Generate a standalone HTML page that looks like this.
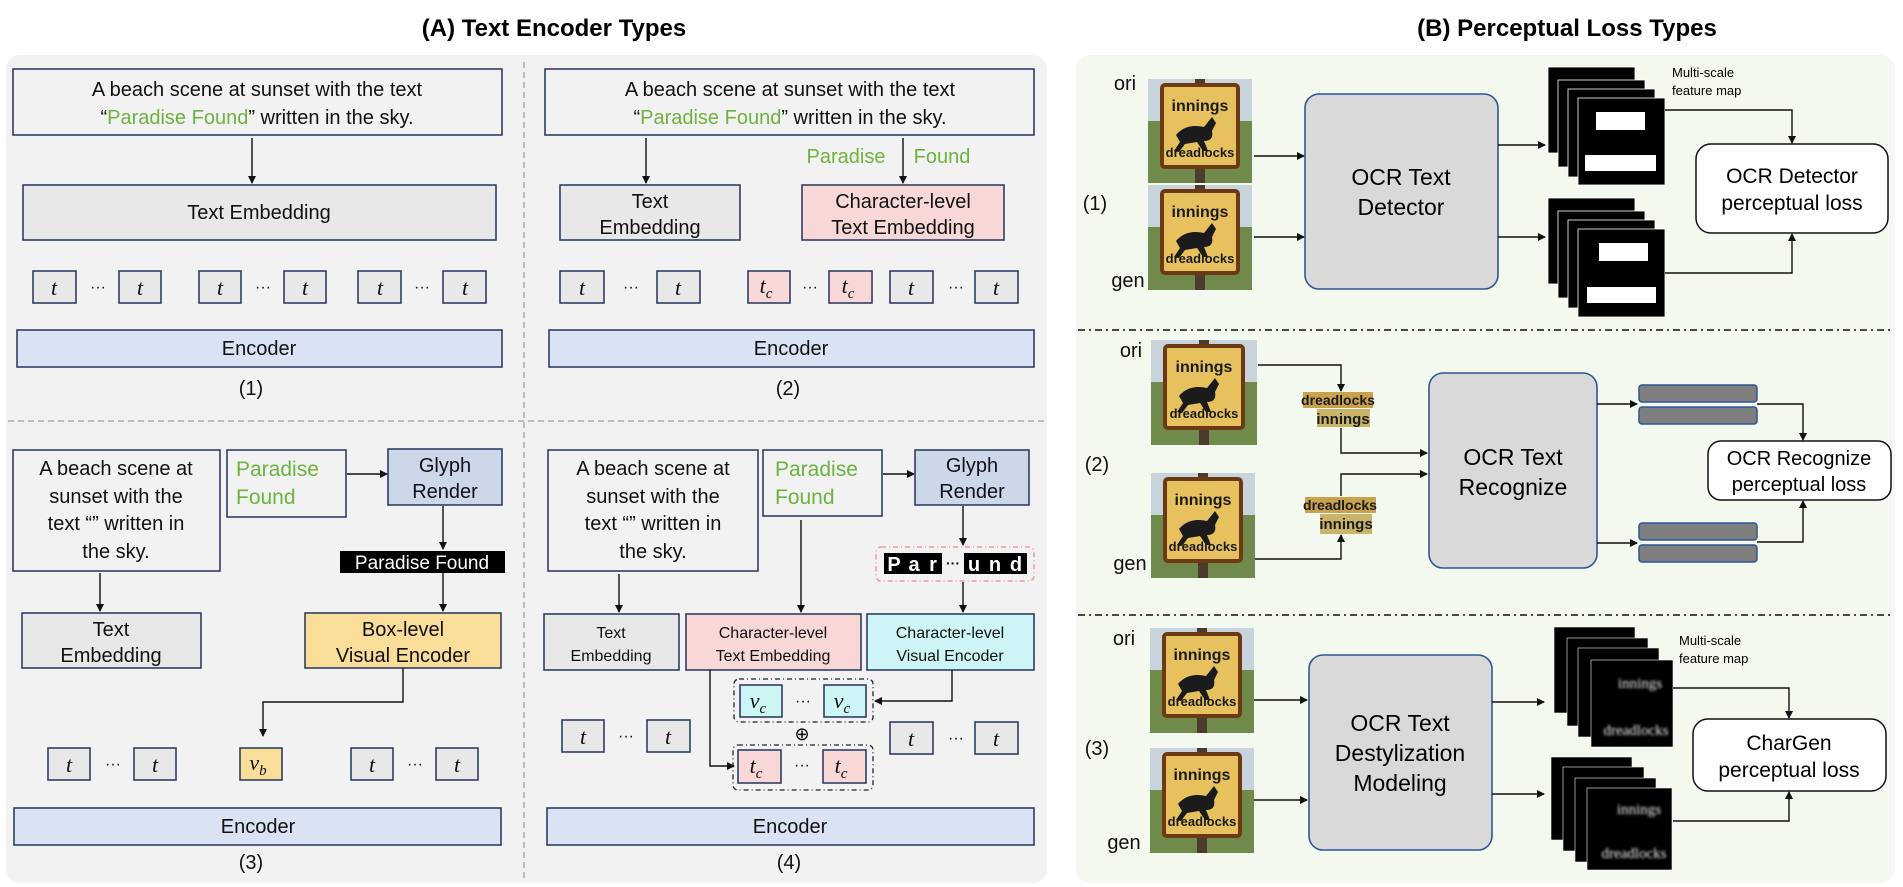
<!DOCTYPE html>
<html><head><meta charset="utf-8"><style>
html,body{margin:0;padding:0;background:#fff;}
svg{display:block;font-family:"Liberation Sans",sans-serif;}
.b{stroke:#2f3f63;stroke-width:1.6}
.t{font-size:20px;fill:#111;text-anchor:middle}
.s{font-size:16px;fill:#111;text-anchor:middle}
.g{fill:#6db33f}
.tok{font-family:"Liberation Serif",serif;font-style:italic;font-size:22px;text-anchor:middle;fill:#111}
.ln{stroke:#111;stroke-width:1.4;fill:none}
.sg{font-weight:bold;text-anchor:middle;fill:#1b1b1b}
</style></head><body>
<svg width="1903" height="887" viewBox="0 0 1903 887" xmlns="http://www.w3.org/2000/svg">
<defs>
<marker id="a" markerWidth="8" markerHeight="8" refX="7" refY="4" orient="auto" markerUnits="userSpaceOnUse"><path d="M0,0 L8,4 L0,8 z" fill="#111"/></marker>
<filter id="bl"><feGaussianBlur stdDeviation="1.2"/></filter>
</defs>
<text x="554" y="36" font-size="24" font-weight="bold" text-anchor="middle">(A) Text Encoder Types</text>
<text x="1567" y="36" font-size="24" font-weight="bold" text-anchor="middle">(B) Perceptual  Loss Types</text>

<rect x="6" y="55" width="1041" height="828" rx="14" fill="#f2f2f2"/>
<rect x="1076" y="55" width="819" height="828" rx="14" fill="#f3f9ee"/>
<line x1="524" y1="62" x2="524" y2="880" stroke="#aaa" stroke-width="1.5" stroke-dasharray="6,4"/>
<line x1="8" y1="421" x2="1045" y2="421" stroke="#aaa" stroke-width="1.5" stroke-dasharray="6,4"/>

<!-- Panel 1 -->
<rect x="13" y="69" width="489" height="66" fill="#f2f2f2" class="b"/>
<text class="t" x="257" y="96">A beach scene at sunset with the text</text>
<text class="t" x="257" y="124">“<tspan class="g">Paradise Found</tspan>” written in the sky.</text>
<line class="ln" x1="252" y1="138" x2="252" y2="183" marker-end="url(#a)"/>
<rect x="23" y="185" width="473" height="55" fill="#e8e8e8" class="b"/>
<text class="t" x="259" y="219">Text Embedding</text>
<g fill="#e8e8e8" stroke="#2f3f63" stroke-width="1.6">
<rect x="33" y="271" width="43" height="32"/><rect x="119" y="271" width="42" height="32"/>
<rect x="199" y="271" width="42" height="32"/><rect x="284" y="271" width="42" height="32"/>
<rect x="358" y="271" width="43" height="32"/><rect x="443" y="271" width="43" height="32"/>
</g>
<g class="tok"><text x="54" y="295">t</text><text x="140" y="295">t</text><text x="220" y="295">t</text><text x="305" y="295">t</text><text x="380" y="295">t</text><text x="465" y="295">t</text></g>
<g class="s"><text x="98" y="292">···</text><text x="263" y="292">···</text><text x="422" y="292">···</text></g>
<rect x="17" y="330" width="485" height="37" fill="#dae3f3" class="b"/>
<text class="t" x="259" y="355">Encoder</text>
<text class="t" x="251" y="395">(1)</text>

<!-- Panel 2 -->
<rect x="545" y="69" width="489" height="66" fill="#f2f2f2" class="b"/>
<text class="t" x="790" y="96">A beach scene at sunset with the text</text>
<text class="t" x="790" y="124">“<tspan class="g">Paradise Found</tspan>” written in the sky.</text>
<line class="ln" x1="646" y1="138" x2="646" y2="183" marker-end="url(#a)"/>
<line class="ln" x1="903" y1="138" x2="903" y2="183" marker-end="url(#a)"/>
<text x="846" y="163" font-size="20" class="g" text-anchor="middle">Paradise</text>
<text x="942" y="163" font-size="20" class="g" text-anchor="middle">Found</text>
<rect x="560" y="185" width="180" height="55" fill="#e8e8e8" class="b"/>
<text class="t" x="650" y="208">Text</text><text class="t" x="650" y="234">Embedding</text>
<rect x="802" y="185" width="202" height="55" fill="#f8d7d7" class="b"/>
<text class="t" x="903" y="208">Character-level</text><text class="t" x="903" y="234">Text Embedding</text>
<g stroke="#2f3f63" stroke-width="1.6">
<rect x="560" y="271" width="44" height="32" fill="#e8e8e8"/><rect x="657" y="271" width="43" height="32" fill="#e8e8e8"/>
<rect x="748" y="271" width="42" height="32" fill="#f8d7d7"/><rect x="829" y="271" width="43" height="32" fill="#f8d7d7"/>
<rect x="890" y="271" width="43" height="32" fill="#e8e8e8"/><rect x="975" y="271" width="43" height="32" fill="#e8e8e8"/>
</g>
<g class="tok"><text x="582" y="295">t</text><text x="678" y="295">t</text><text x="766" y="293">t<tspan font-size="15" dy="5">c</tspan></text><text x="848" y="293">t<tspan font-size="15" dy="5">c</tspan></text><text x="911" y="295">t</text><text x="996" y="295">t</text></g>
<g class="s"><text x="631" y="292">···</text><text x="810" y="292">···</text><text x="956" y="292">···</text></g>
<rect x="549" y="330" width="485" height="37" fill="#dae3f3" class="b"/>
<text class="t" x="791" y="355">Encoder</text>
<text class="t" x="788" y="395">(2)</text>

<!-- Panel 3 -->
<rect x="13" y="450" width="207" height="121" fill="#f2f2f2" class="b"/>
<g class="t"><text x="116" y="475">A beach scene at</text><text x="116" y="503">sunset with the</text><text x="116" y="530">text “” written in</text><text x="116" y="558">the sky.</text></g>
<rect x="227" y="450" width="119" height="67" fill="#f2f2f2" class="b"/>
<text x="236" y="476" font-size="21" class="g">Paradise</text><text x="236" y="504" font-size="21" class="g">Found</text>
<rect x="388" y="449" width="114" height="56" fill="#ccd7ea" class="b"/>
<text class="t" x="445" y="472">Glyph</text><text class="t" x="445" y="498">Render</text>
<line class="ln" x1="347" y1="474" x2="387" y2="474" marker-end="url(#a)"/>
<line class="ln" x1="443" y1="506" x2="443" y2="549" marker-end="url(#a)"/>
<rect x="340" y="551" width="165" height="22" fill="#000"/>
<text x="422" y="569" font-size="19" fill="#fff" text-anchor="middle">Paradise Found</text>
<line class="ln" x1="443" y1="573" x2="443" y2="611" marker-end="url(#a)"/>
<rect x="305" y="613" width="196" height="55" fill="#f9dd98" class="b"/>
<text class="t" x="403" y="636">Box-level</text><text class="t" x="403" y="662">Visual Encoder</text>
<rect x="22" y="613" width="179" height="55" fill="#e8e8e8" class="b"/>
<text class="t" x="111" y="636">Text</text><text class="t" x="111" y="662">Embedding</text>
<line class="ln" x1="100" y1="573" x2="100" y2="611" marker-end="url(#a)"/>
<polyline class="ln" points="403,668 403,702 263,702 263,736" marker-end="url(#a)"/>
<g stroke="#2f3f63" stroke-width="1.6">
<rect x="48" y="748" width="42" height="32" fill="#e8e8e8"/><rect x="134" y="748" width="42" height="32" fill="#e8e8e8"/>
<rect x="240" y="748" width="42" height="32" fill="#f9dd98"/>
<rect x="351" y="748" width="42" height="32" fill="#e8e8e8"/><rect x="436" y="748" width="42" height="32" fill="#e8e8e8"/>
</g>
<g class="tok"><text x="69" y="772">t</text><text x="155" y="772">t</text><text x="258" y="770">v<tspan font-size="15" dy="5">b</tspan></text><text x="372" y="772">t</text><text x="457" y="772">t</text></g>
<g class="s"><text x="113" y="769">···</text><text x="415" y="769">···</text></g>
<rect x="14" y="808" width="487" height="37" fill="#dae3f3" class="b"/>
<text class="t" x="258" y="833">Encoder</text>
<text class="t" x="251" y="869">(3)</text>

<!-- Panel 4 -->
<rect x="548" y="450" width="210" height="121" fill="#f2f2f2" class="b"/>
<g class="t"><text x="653" y="475">A beach scene at</text><text x="653" y="503">sunset with the</text><text x="653" y="530">text “” written in</text><text x="653" y="558">the sky.</text></g>
<rect x="763" y="450" width="119" height="66" fill="#f2f2f2" class="b"/>
<text x="775" y="476" font-size="21" class="g">Paradise</text><text x="775" y="504" font-size="21" class="g">Found</text>
<rect x="915" y="450" width="114" height="55" fill="#ccd7ea" class="b"/>
<text class="t" x="972" y="472">Glyph</text><text class="t" x="972" y="498">Render</text>
<line class="ln" x1="883" y1="474" x2="914" y2="474" marker-end="url(#a)"/>
<line class="ln" x1="963" y1="506" x2="963" y2="545" marker-end="url(#a)"/>
<rect x="876" y="547" width="158" height="34" rx="5" fill="none" stroke="#f08c8c" stroke-width="1.3" stroke-dasharray="5,3,1,3"/>
<g font-size="20" font-weight="bold" fill="#fff" text-anchor="middle">
<rect x="884" y="553" width="20" height="21" fill="#000"/><text x="894" y="571">P</text>
<rect x="904" y="553" width="20" height="21" fill="#000"/><text x="914" y="571">a</text>
<rect x="924" y="553" width="18" height="21" fill="#000"/><text x="933" y="571">r</text>
<text x="953" y="568" fill="#111" font-size="14">···</text>
<rect x="964" y="553" width="21" height="21" fill="#000"/><text x="974" y="571">u</text>
<rect x="985" y="553" width="21" height="21" fill="#000"/><text x="995" y="571">n</text>
<rect x="1006" y="553" width="21" height="21" fill="#000"/><text x="1016" y="571">d</text>
</g>
<line class="ln" x1="963" y1="582" x2="963" y2="612" marker-end="url(#a)"/>
<line class="ln" x1="619" y1="574" x2="619" y2="612" marker-end="url(#a)"/>
<line class="ln" x1="801" y1="520" x2="801" y2="612" marker-end="url(#a)"/>
<rect x="544" y="614" width="135" height="56" fill="#e8e8e8" class="b"/>
<text class="s" x="611" y="638">Text</text><text class="s" x="611" y="661">Embedding</text>
<rect x="686" y="614" width="175" height="56" fill="#f8d7d7" class="b"/>
<text class="s" x="773" y="638">Character-level</text><text class="s" x="773" y="661">Text Embedding</text>
<rect x="867" y="614" width="167" height="56" fill="#cdf5f5" class="b"/>
<text class="s" x="950" y="638">Character-level</text><text class="s" x="950" y="661">Visual Encoder</text>
<rect x="734" y="679" width="139" height="43" rx="5" fill="none" stroke="#222" stroke-width="1.3" stroke-dasharray="5,3,1,3"/>
<rect x="740" y="685" width="42" height="32" fill="#cdf5f5" stroke="#2f3f63" stroke-width="1.6"/>
<rect x="824" y="685" width="42" height="32" fill="#cdf5f5" stroke="#2f3f63" stroke-width="1.6"/>
<g class="tok"><text x="758" y="708">v<tspan font-size="15" dy="5">c</tspan></text><text x="842" y="708">v<tspan font-size="15" dy="5">c</tspan></text></g>
<text class="s" x="803" y="706">···</text>
<polyline class="ln" points="952,670 952,701 875,701" marker-end="url(#a)"/>
<text x="802" y="740" font-size="18" text-anchor="middle">⊕</text>
<rect x="733" y="745" width="140" height="45" rx="5" fill="none" stroke="#222" stroke-width="1.3" stroke-dasharray="5,3,1,3"/>
<rect x="738" y="750" width="43" height="33" fill="#f8d7d7" stroke="#2f3f63" stroke-width="1.6"/>
<rect x="823" y="750" width="43" height="33" fill="#f8d7d7" stroke="#2f3f63" stroke-width="1.6"/>
<g class="tok"><text x="756" y="773">t<tspan font-size="15" dy="5">c</tspan></text><text x="841" y="773">t<tspan font-size="15" dy="5">c</tspan></text></g>
<text class="s" x="802" y="770">···</text>
<polyline class="ln" points="710,670 710,766 734,766" marker-end="url(#a)"/>
<g stroke="#2f3f63" stroke-width="1.6" fill="#e8e8e8">
<rect x="562" y="720" width="42" height="32"/><rect x="647" y="720" width="43" height="32"/>
<rect x="890" y="722" width="43" height="32"/><rect x="975" y="722" width="43" height="32"/>
</g>
<g class="tok"><text x="583" y="744">t</text><text x="668" y="744">t</text><text x="911" y="746">t</text><text x="996" y="746">t</text></g>
<g class="s"><text x="626" y="741">···</text><text x="956" y="743">···</text></g>
<rect x="547" y="808" width="487" height="37" fill="#dae3f3" class="b"/>
<text class="t" x="790" y="833">Encoder</text>
<text class="t" x="789" y="869">(4)</text>

<!-- Right panel -->
<line x1="1078" y1="330" x2="1893" y2="330" stroke="#111" stroke-width="1.5" stroke-dasharray="7,4,2,4"/>
<line x1="1078" y1="615" x2="1893" y2="615" stroke="#111" stroke-width="1.5" stroke-dasharray="7,4,2,4"/>

<!-- sign images -->
<g transform="translate(1148,79)">
<rect width="104" height="104" fill="#c9d3dc"/><rect y="42" width="104" height="62" fill="#6f8a4b"/>
<rect x="47" width="10" height="104" fill="#4a3b2c"/>
<rect x="14" y="6" width="76" height="82" rx="3" fill="#e7c15d" stroke="#6b3a12" stroke-width="4"/>
<text x="52" y="32" font-size="16" class="sg">innings</text>
<path d="M28,56 q10,-12 28,-8 l8,-10 4,6 -4,8 q2,10 -8,10 l4,10 -5,0 -6,-9 -12,2 -6,8 -5,-1 6,-9z" fill="#1b1b1b"/>
<text x="52" y="78" font-size="13" class="sg">dreadlocks</text>
</g>
<g transform="translate(1148,185)">
<rect width="104" height="105" fill="#c9d3dc"/><rect y="42" width="104" height="63" fill="#6f8a4b"/>
<rect x="47" width="10" height="105" fill="#4a3b2c"/>
<rect x="14" y="6" width="76" height="82" rx="3" fill="#e7c15d" stroke="#6b3a12" stroke-width="4"/>
<text x="52" y="32" font-size="16" class="sg">innings</text>
<path d="M28,56 q10,-12 28,-8 l8,-10 4,6 -4,8 q2,10 -8,10 l4,10 -5,0 -6,-9 -12,2 -6,8 -5,-1 6,-9z" fill="#1b1b1b"/>
<text x="52" y="78" font-size="13" class="sg">dreadlocks</text>
</g>
<g transform="translate(1151,340)">
<rect width="106" height="105" fill="#c9d3dc"/><rect y="42" width="106" height="63" fill="#6f8a4b"/>
<rect x="48" width="10" height="105" fill="#4a3b2c"/>
<rect x="14" y="6" width="78" height="82" rx="3" fill="#e7c15d" stroke="#6b3a12" stroke-width="4"/>
<text x="53" y="32" font-size="16" class="sg">innings</text>
<path d="M28,56 q10,-12 28,-8 l8,-10 4,6 -4,8 q2,10 -8,10 l4,10 -5,0 -6,-9 -12,2 -6,8 -5,-1 6,-9z" fill="#1b1b1b"/>
<text x="53" y="78" font-size="13" class="sg">dreadlocks</text>
</g>
<g transform="translate(1151,473)">
<rect width="104" height="105" fill="#c9d3dc"/><rect y="42" width="104" height="63" fill="#6f8a4b"/>
<rect x="47" width="10" height="105" fill="#4a3b2c"/>
<rect x="14" y="6" width="76" height="82" rx="3" fill="#e7c15d" stroke="#6b3a12" stroke-width="4"/>
<text x="52" y="32" font-size="16" class="sg">innings</text>
<path d="M28,56 q10,-12 28,-8 l8,-10 4,6 -4,8 q2,10 -8,10 l4,10 -5,0 -6,-9 -12,2 -6,8 -5,-1 6,-9z" fill="#1b1b1b"/>
<text x="52" y="78" font-size="13" class="sg">dreadlocks</text>
</g>
<g transform="translate(1150,628)">
<rect width="104" height="105" fill="#c9d3dc"/><rect y="42" width="104" height="63" fill="#6f8a4b"/>
<rect x="47" width="10" height="105" fill="#4a3b2c"/>
<rect x="14" y="6" width="76" height="82" rx="3" fill="#e7c15d" stroke="#6b3a12" stroke-width="4"/>
<text x="52" y="32" font-size="16" class="sg">innings</text>
<path d="M28,56 q10,-12 28,-8 l8,-10 4,6 -4,8 q2,10 -8,10 l4,10 -5,0 -6,-9 -12,2 -6,8 -5,-1 6,-9z" fill="#1b1b1b"/>
<text x="52" y="78" font-size="13" class="sg">dreadlocks</text>
</g>
<g transform="translate(1150,748)">
<rect width="104" height="105" fill="#c9d3dc"/><rect y="42" width="104" height="63" fill="#6f8a4b"/>
<rect x="47" width="10" height="105" fill="#4a3b2c"/>
<rect x="14" y="6" width="76" height="82" rx="3" fill="#e7c15d" stroke="#6b3a12" stroke-width="4"/>
<text x="52" y="32" font-size="16" class="sg">innings</text>
<path d="M28,56 q10,-12 28,-8 l8,-10 4,6 -4,8 q2,10 -8,10 l4,10 -5,0 -6,-9 -12,2 -6,8 -5,-1 6,-9z" fill="#1b1b1b"/>
<text x="52" y="78" font-size="13" class="sg">dreadlocks</text>
</g>

<!-- Section 1 -->
<g class="t"><text x="1125" y="90">ori</text><text x="1095" y="210">(1)</text><text x="1128" y="287">gen</text></g>
<line class="ln" x1="1254" y1="156" x2="1304" y2="156" marker-end="url(#a)"/>
<line class="ln" x1="1254" y1="237" x2="1304" y2="237" marker-end="url(#a)"/>
<rect x="1305" y="94" width="193" height="195" rx="14" fill="#d9d9d9" stroke="#2f5597" stroke-width="1.6"/>
<text x="1401" y="185" font-size="23" text-anchor="middle">OCR Text</text>
<text x="1401" y="215" font-size="23" text-anchor="middle">Detector</text>
<line class="ln" x1="1498" y1="145" x2="1545" y2="145" marker-end="url(#a)"/>
<line class="ln" x1="1498" y1="237" x2="1545" y2="237" marker-end="url(#a)"/>
<g fill="#000" stroke="#fff" stroke-width="0.8">
<rect x="1548" y="67" width="87" height="86"/><rect x="1558" y="80" width="87" height="87"/><rect x="1568" y="89" width="87" height="88"/><rect x="1578" y="98" width="87" height="87"/>
<rect x="1548" y="198" width="87" height="86"/><rect x="1558" y="211" width="87" height="87"/><rect x="1568" y="220" width="87" height="88"/><rect x="1578" y="229" width="87" height="88"/>
</g>
<g fill="#fff"><rect x="1596" y="112" width="49" height="18"/><rect x="1585" y="155" width="71" height="16"/><rect x="1599" y="243" width="49" height="18"/><rect x="1587" y="287" width="69" height="16"/></g>
<text x="1672" y="77" font-size="13">Multi-scale</text><text x="1672" y="95" font-size="13">feature map</text>
<rect x="1696" y="144" width="192" height="89" rx="15" fill="#fff" stroke="#111" stroke-width="1.5"/>
<text x="1792" y="183" font-size="21" text-anchor="middle">OCR Detector</text>
<text x="1792" y="210" font-size="21" text-anchor="middle">perceptual loss</text>
<polyline class="ln" points="1665,110 1792,110 1792,143" marker-end="url(#a)"/>
<polyline class="ln" points="1665,273 1792,273 1792,234" marker-end="url(#a)"/>

<!-- Section 2 -->
<g class="t"><text x="1131" y="357">ori</text><text x="1097" y="471">(2)</text><text x="1130" y="570">gen</text></g>
<rect x="1303" y="392" width="70" height="16" fill="#c9a24e"/><text x="1338" y="405" font-size="14" class="sg">dreadlocks</text>
<rect x="1317" y="409" width="53" height="18" fill="#c9b46a"/><text x="1343" y="424" font-size="15" class="sg">innings</text>
<rect x="1305" y="497" width="71" height="16" fill="#c9a24e"/><text x="1340" y="510" font-size="14" class="sg">dreadlocks</text>
<rect x="1320" y="514" width="52" height="20" fill="#c9b46a"/><text x="1346" y="529" font-size="15" class="sg">innings</text>
<polyline class="ln" points="1258,365 1341,365 1341,391" marker-end="url(#a)"/>
<polyline class="ln" points="1341,428 1341,453 1427,453" marker-end="url(#a)"/>
<polyline class="ln" points="1255,559 1341,559 1341,535" marker-end="url(#a)"/>
<polyline class="ln" points="1341,496 1341,474 1427,474" marker-end="url(#a)"/>
<rect x="1429" y="373" width="168" height="195" rx="14" fill="#d9d9d9" stroke="#2f5597" stroke-width="1.6"/>
<text x="1513" y="465" font-size="23" text-anchor="middle">OCR Text</text>
<text x="1513" y="495" font-size="23" text-anchor="middle">Recognize</text>
<line class="ln" x1="1597" y1="404" x2="1637" y2="404" marker-end="url(#a)"/>
<line class="ln" x1="1597" y1="543" x2="1637" y2="543" marker-end="url(#a)"/>
<g fill="#7f7f7f" stroke="#2f5597" stroke-width="1.5">
<rect x="1639" y="385" width="118" height="17" rx="3"/><rect x="1639" y="407" width="118" height="17" rx="3"/>
<rect x="1639" y="523" width="118" height="17" rx="3"/><rect x="1639" y="545" width="118" height="17" rx="3"/>
</g>
<rect x="1708" y="441" width="183" height="59" rx="13" fill="#fff" stroke="#111" stroke-width="1.5"/>
<text x="1799" y="465" font-size="20" text-anchor="middle">OCR Recognize</text>
<text x="1799" y="491" font-size="20" text-anchor="middle">perceptual loss</text>
<polyline class="ln" points="1757,404 1803,404 1803,440" marker-end="url(#a)"/>
<polyline class="ln" points="1757,542 1803,542 1803,501" marker-end="url(#a)"/>

<!-- Section 3 -->
<g class="t"><text x="1124" y="645">ori</text><text x="1097" y="755">(3)</text><text x="1124" y="849">gen</text></g>
<line class="ln" x1="1254" y1="700" x2="1307" y2="700" marker-end="url(#a)"/>
<line class="ln" x1="1254" y1="800" x2="1307" y2="800" marker-end="url(#a)"/>
<rect x="1309" y="655" width="183" height="195" rx="14" fill="#d9d9d9" stroke="#2f5597" stroke-width="1.6"/>
<text x="1400" y="731" font-size="23" text-anchor="middle">OCR Text</text>
<text x="1400" y="761" font-size="23" text-anchor="middle">Destylization</text>
<text x="1400" y="791" font-size="23" text-anchor="middle">Modeling</text>
<line class="ln" x1="1492" y1="702" x2="1544" y2="702" marker-end="url(#a)"/>
<line class="ln" x1="1492" y1="794" x2="1544" y2="794" marker-end="url(#a)"/>
<g fill="#000" stroke="#f3f9ee" stroke-width="0.6">
<rect x="1554" y="627" width="81" height="86"/><rect x="1567" y="638" width="81" height="88"/><rect x="1578" y="648" width="81" height="89"/><rect x="1591" y="660" width="82" height="87"/>
<rect x="1551" y="757" width="81" height="83"/><rect x="1563" y="767" width="81" height="84"/><rect x="1575" y="778" width="81" height="84"/><rect x="1587" y="788" width="85" height="82"/>
</g>
<g fill="#eee" font-family="Liberation Serif,serif" font-size="15" filter="url(#bl)" text-anchor="middle">
<text x="1640" y="688">innings</text><text x="1636" y="735">dreadlocks</text>
<text x="1639" y="814">innings</text><text x="1634" y="858">dreadlocks</text>
</g>
<text x="1679" y="645" font-size="13">Multi-scale</text><text x="1679" y="663" font-size="13">feature map</text>
<rect x="1693" y="719" width="193" height="72" rx="15" fill="#fff" stroke="#111" stroke-width="1.5"/>
<text x="1789" y="750" font-size="21" text-anchor="middle">CharGen</text>
<text x="1789" y="777" font-size="21" text-anchor="middle">perceptual loss</text>
<polyline class="ln" points="1673,688 1789,688 1789,718" marker-end="url(#a)"/>
<polyline class="ln" points="1673,821 1789,821 1789,792" marker-end="url(#a)"/>
</svg>
</body></html>
